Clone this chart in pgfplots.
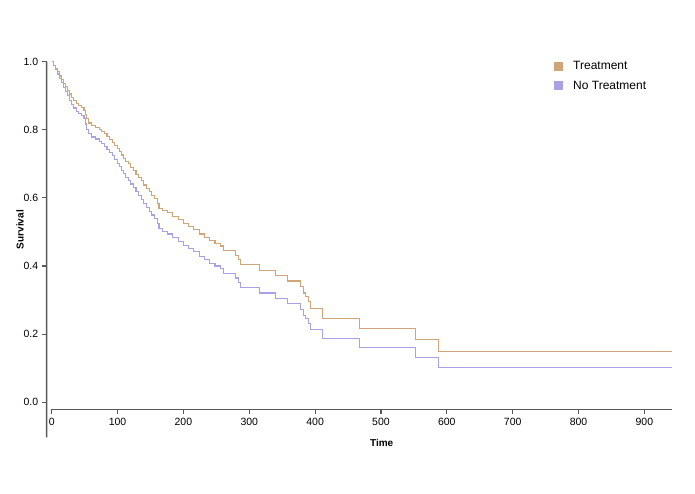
\documentclass[border=0pt]{standalone}
\usepackage{fontspec}
\setmainfont{Liberation Sans}
\usepackage{pgfplots}
\pgfplotsset{compat=1.18}
\usepackage{pgfplotstable}

\definecolor{treat}{RGB}{208,166,120}
\definecolor{notreat}{RGB}{168,161,228}
\definecolor{axisgray}{RGB}{88,88,88}

% survival estimates
\pgfplotstableread{
t   treat  notreat
0   1.000  1.000
3   0.990  0.988
6   0.980  0.976
9   0.970  0.964
12  0.958  0.950
15  0.948  0.938
18  0.937  0.925
21  0.927  0.913
24  0.916  0.900
27  0.905  0.887
30  0.895  0.875
33  0.885  0.864
37  0.878  0.855
41  0.872  0.848
45  0.866  0.841
49  0.858  0.832
51  0.845  0.817
53  0.832  0.802
56  0.820  0.788
60  0.812  0.779
66  0.807  0.773
72  0.802  0.767
76  0.795  0.759
80  0.788  0.751
84  0.780  0.742
88  0.772  0.733
92  0.764  0.724
96  0.755  0.714
100 0.745  0.702
103 0.735  0.691
106 0.726  0.681
109 0.717  0.671
112 0.708  0.661
116 0.700  0.652
120 0.690  0.641
124 0.680  0.630
128 0.670  0.618
132 0.660  0.607
136 0.650  0.596
140 0.638  0.583
144 0.628  0.572
148 0.618  0.561
152 0.608  0.550
156 0.598  0.540
160 0.584  0.525
163 0.570  0.509
168 0.562  0.501
176 0.556  0.494
184 0.545  0.483
192 0.536  0.473
200 0.524  0.461
208 0.516  0.452
216 0.508  0.444
224 0.494  0.429
232 0.484  0.419
240 0.474  0.408
248 0.466  0.400
257 0.459  0.393
261 0.445  0.379
279 0.432  0.365
283 0.418  0.351
287 0.405  0.338
315 0.388  0.321
340 0.371  0.304
358 0.356  0.290
378 0.339  0.273
382 0.321  0.256
386 0.310  0.245
390 0.295  0.231
393 0.276  0.213
411 0.246  0.186
467 0.217  0.160
553 0.184  0.131
588 0.148  0.101
941.5 0.148 0.101
}\survival

\begin{document}
\begin{tikzpicture}
\useasboundingbox (-46.7pt,-84.7pt) rectangle (648.3pt,409.3pt);
\begin{axis}[
    at={(0,0)}, anchor=south west,
    scale only axis,
    width=625pt, height=347.6pt,
    xmin=-7.6, xmax=941.5,
    ymin=-0.0206, ymax=1,
    axis lines=left,
    axis line style={draw=none},
    clip=false,
    xtick={0,100,...,900},
    ytick={0,0.2,0.4,0.6,0.8,1.0},
    yticklabel style={/pgf/number format/.cd, fixed, fixed zerofill, precision=1},
    /pgf/number format/assume math mode=true,
    tick align=outside,
    major tick length=5pt,
    tick style={axisgray, line width=1.1pt},
    ticklabel style={font=\fontsize{10.5}{12}\selectfont},
    xlabel={Time},
    ylabel={Survival},
    xlabel style={at={(axis description cs:0.536,-0.0978)}, anchor=center,
        font=\bfseries\fontsize{10}{12}\selectfont},
    ylabel style={at={(axis description cs:-0.0427,0.517)}, anchor=center,
        font=\bfseries\fontsize{10}{12}\selectfont},
    legend style={at={(axis description cs:0.8117,1.0006)}, anchor=north west,
        draw=none, fill=none, inner sep=0pt, row sep=9.5pt, column sep=10pt,
        font=\fontsize{12}{14}\selectfont, nodes={inner sep=0pt}},
    legend cell align=left,
    legend image code/.code={\fill[#1,draw=none] (0pt,-4.5pt) rectangle (9pt,4.5pt);},
]
\addplot[const plot, treat, line width=1.1pt] table[x=t, y=treat] {\survival};
\addlegendentry{Treatment}
\addplot[const plot, notreat, line width=1.1pt] table[x=t, y=notreat] {\survival};
\addlegendentry{No Treatment}

\draw[axisgray, line width=1.5pt] (axis cs:-7.6,1) -- (axis cs:-7.6,-0.103) -- ++(-5pt,0);
\draw[axisgray, line width=1.5pt] (axis cs:0,-0.0206) -- (axis cs:941.5,-0.0206);
\end{axis}
\end{tikzpicture}
\end{document}
